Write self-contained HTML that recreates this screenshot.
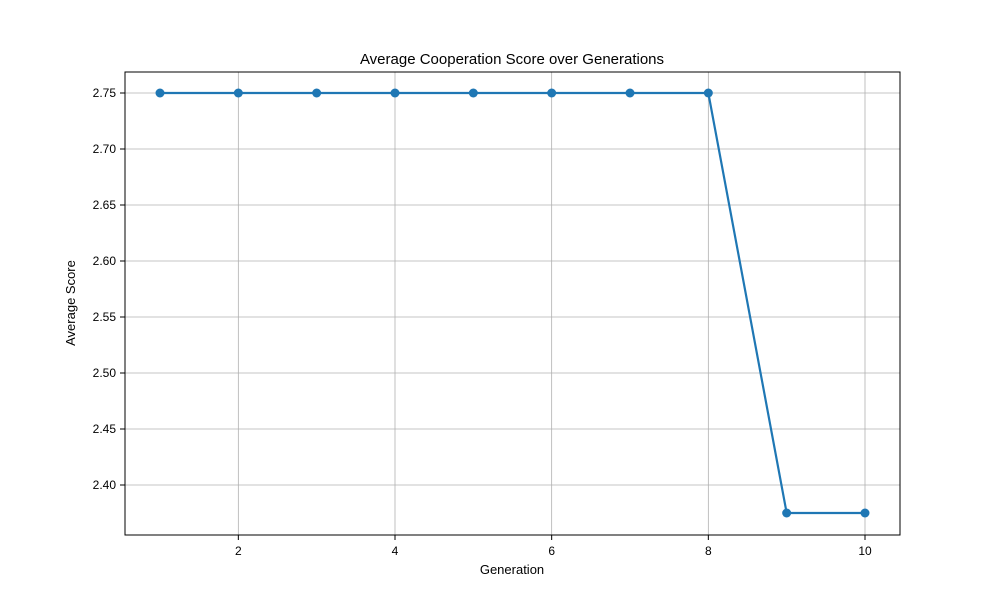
<!DOCTYPE html>
<html><head><meta charset="utf-8"><style>
body{margin:0;background:#fff;}
svg text{font-family:"Liberation Sans","DejaVu Sans",sans-serif;fill:#000;}
</style></head><body>
<svg id="chart" width="1000" height="600" xmlns="http://www.w3.org/2000/svg">
<rect width="1000" height="600" fill="#fff"/>
<g id="grid"></g>
<g id="series"></g>
<rect x="125" y="72" width="775" height="463" fill="none" stroke="#000" stroke-width="1"/>
<g id="ticks"></g>
<text x="512" y="64" font-size="15" text-anchor="middle">Average Cooperation Score over Generations</text>
<text x="512" y="574" font-size="13" text-anchor="middle">Generation</text>
<text x="75" y="303" font-size="13" text-anchor="middle" transform="rotate(-90 75 303)">Average Score</text>
</svg>
<script>
const generations=[1,2,3,4,5,6,7,8,9,10];
const scores=[2.75,2.75,2.75,2.75,2.75,2.75,2.75,2.75,2.375,2.375];
const xTicks=[2,4,6,8,10];
const yTicks=[2.40,2.45,2.50,2.55,2.60,2.65,2.70,2.75];
const NS="http://www.w3.org/2000/svg";
function xs(v){return 160+(v-1)*(865-160)/9;}
function ys(v){return 93+(2.75-v)/0.05*56;}
function mk(tag,attrs,parent){const e=document.createElementNS(NS,tag);for(const k in attrs)e.setAttribute(k,attrs[k]);parent.appendChild(e);return e;}
const grid=document.getElementById('grid'),ticks=document.getElementById('ticks'),ser=document.getElementById('series');
xTicks.forEach(t=>{const x=xs(t);
const g=mk('line',{x1:x,x2:x,y1:72,y2:535,stroke:'#b0b0b0','stroke-width':0.8},grid);


const tk=mk('line',{x1:x,x2:x,y1:535,y2:540,stroke:'#000'},ticks);


const tx=mk('text',{x:x,y:555,'font-size':12,'text-anchor':'middle'},ticks);tx.textContent=t;

});
yTicks.forEach(t=>{const y=ys(t);
const g=mk('line',{x1:125,x2:900,y1:y,y2:y,stroke:'#b0b0b0','stroke-width':0.8},grid);


const tk=mk('line',{x1:120,x2:125,y1:y,y2:y,stroke:'#000'},ticks);


const tx=mk('text',{x:116,y:y+4,'font-size':12,'text-anchor':'end'},ticks);tx.textContent=t.toFixed(2);

});
const pts=generations.map((g,i)=>xs(g)+','+ys(scores[i])).join(' ');
const pl=mk('polyline',{points:pts,fill:'none',stroke:'#1f77b4','stroke-width':2.2},ser);


generations.forEach((g,i)=>{const c=mk('circle',{cx:xs(g),cy:ys(scores[i]),r:4.5,fill:'#1f77b4'},ser);

});
</script>
</body></html>
